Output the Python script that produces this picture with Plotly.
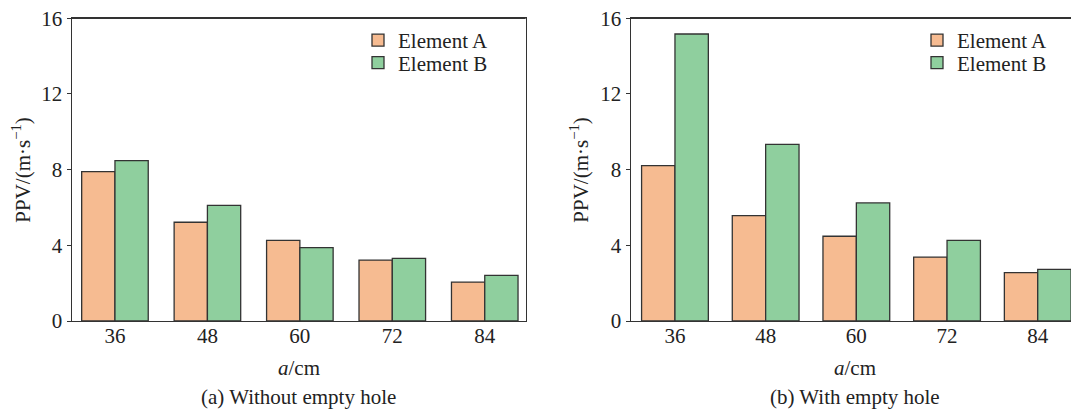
import plotly.graph_objects as go

categories = ["36", "48", "60", "72", "84"]
left_a = [7.9, 5.22, 4.26, 3.22, 2.06]
left_b = [8.48, 6.11, 3.88, 3.31, 2.41]
right_a = [8.21, 5.57, 4.48, 3.38, 2.56]
right_b = [15.17, 9.34, 6.24, 4.26, 2.73]
y_ticks = [0, 4, 8, 12, 16]
series_names = ["Element A", "Element B"]
captions = ["(a) Without empty hole", "(b) With empty hole"]

# page body has an 8px margin; the figure is sized to fill the rest
OFF = 8
W, H = 1079 - OFF, 410 - OFF
COL_A = "#F6BB91"
COL_B = "#8FCF9E"
EDGE = "#333333"
FONT = '"Liberation Serif", "Times New Roman", Times, serif'
TXT = "#222222"


def px_x(sx):
    return (sx - OFF) / W


def px_y(sy):
    return 1 - (sy - OFF) / H


fig = go.Figure()


def add_bars(vals_a, vals_b, xa, ya, legends, w):
    for name, vals, col, off, lg in [(series_names[0], vals_a, COL_A, -w, legends[0]),
                                     (series_names[1], vals_b, COL_B, 0.0, legends[1])]:
        fig.add_trace(go.Bar(
            x=categories, y=vals, name=name, width=w, offset=off,
            marker=dict(color=col, line=dict(color=EDGE, width=1.3)),
            xaxis=xa, yaxis=ya, legend=lg,
        ))


add_bars(left_a, left_b, "x", "y", ["legend", "legend2"], 0.36)
add_bars(right_a, right_b, "x2", "y2", ["legend3", "legend4"], 0.368)

ydom = [px_y(321), px_y(18.3)]
xdom1 = [px_x(71.7), px_x(525.7)]
xdom2 = [px_x(630.7), 1.0]

axis_common = dict(showline=True, linecolor=EDGE, linewidth=1.3,
                   showgrid=False, zeroline=False, automargin=False,
                   ticklabeloverflow="allow",
                   tickfont=dict(family=FONT, size=21, color=TXT))


def leg(sx, sy):
    return dict(x=px_x(sx), y=px_y(sy), xanchor="left", yanchor="top",
                bgcolor="rgba(0,0,0,0)", borderwidth=0,
                font=dict(family=FONT, size=21, color=TXT))


fig.update_layout(
    template="none",
    width=W, height=H,
    margin=dict(l=0, r=0, t=0, b=0, pad=0),
    paper_bgcolor="white", plot_bgcolor="white",
    barmode="overlay",
    font=dict(family=FONT, size=21, color=TXT),
    xaxis=dict(domain=xdom1, type="category", range=[-0.468, 4.443],
               ticks="", mirror=True, anchor="y", ticklabelstandoff=-4, **axis_common),
    yaxis=dict(domain=ydom, range=[0, 16], tickvals=y_ticks, ticks="outside",
               ticklen=4, tickcolor=EDGE, mirror=True, anchor="x", **axis_common),
    xaxis2=dict(domain=xdom2, type="category", range=[-0.488, 4.455],
                ticks="", mirror=True, anchor="y2", ticklabelstandoff=-4, **axis_common),
    yaxis2=dict(domain=ydom, range=[0, 16], tickvals=y_ticks, ticks="outside",
                ticklen=4, tickcolor=EDGE, mirror=False, anchor="x2", **axis_common),
    legend=leg(358, 20),
    legend2=leg(358, 42.5),
    legend3=leg(917, 20),
    legend4=leg(917, 42.5),
    showlegend=True,
)

# top frame lines of both panels
for xr, yr in [("x domain", "y domain"), ("x2 domain", "y2 domain")]:
    fig.add_shape(type="line", xref=xr, yref=yr, x0=0, x1=1, y0=1, y1=1,
                  line=dict(color=EDGE, width=1.3), layer="above")

anns = []
for xd, cap, ytx in [(xdom1, captions[0], 22), (xdom2, captions[1], 580)]:
    cx = (xd[0] + xd[1]) / 2
    anns.append(dict(x=cx, y=px_y(368), xref="paper", yref="paper",
                     text="<i>a</i>/cm", showarrow=False,
                     font=dict(family=FONT, size=21, color=TXT),
                     xanchor="center", yanchor="middle"))
    anns.append(dict(x=cx, y=px_y(397), xref="paper", yref="paper",
                     text=cap, showarrow=False,
                     font=dict(family=FONT, size=21, color=TXT),
                     xanchor="center", yanchor="middle"))
    anns.append(dict(x=px_x(ytx), y=(ydom[0] + ydom[1]) / 2, xref="paper", yref="paper",
                     text="PPV/(m·s<sup>−1</sup>)", showarrow=False, textangle=-90,
                     font=dict(family=FONT, size=21, color=TXT),
                     xanchor="center", yanchor="middle"))
fig.update_layout(annotations=anns)

fig.write_html("out.html")
